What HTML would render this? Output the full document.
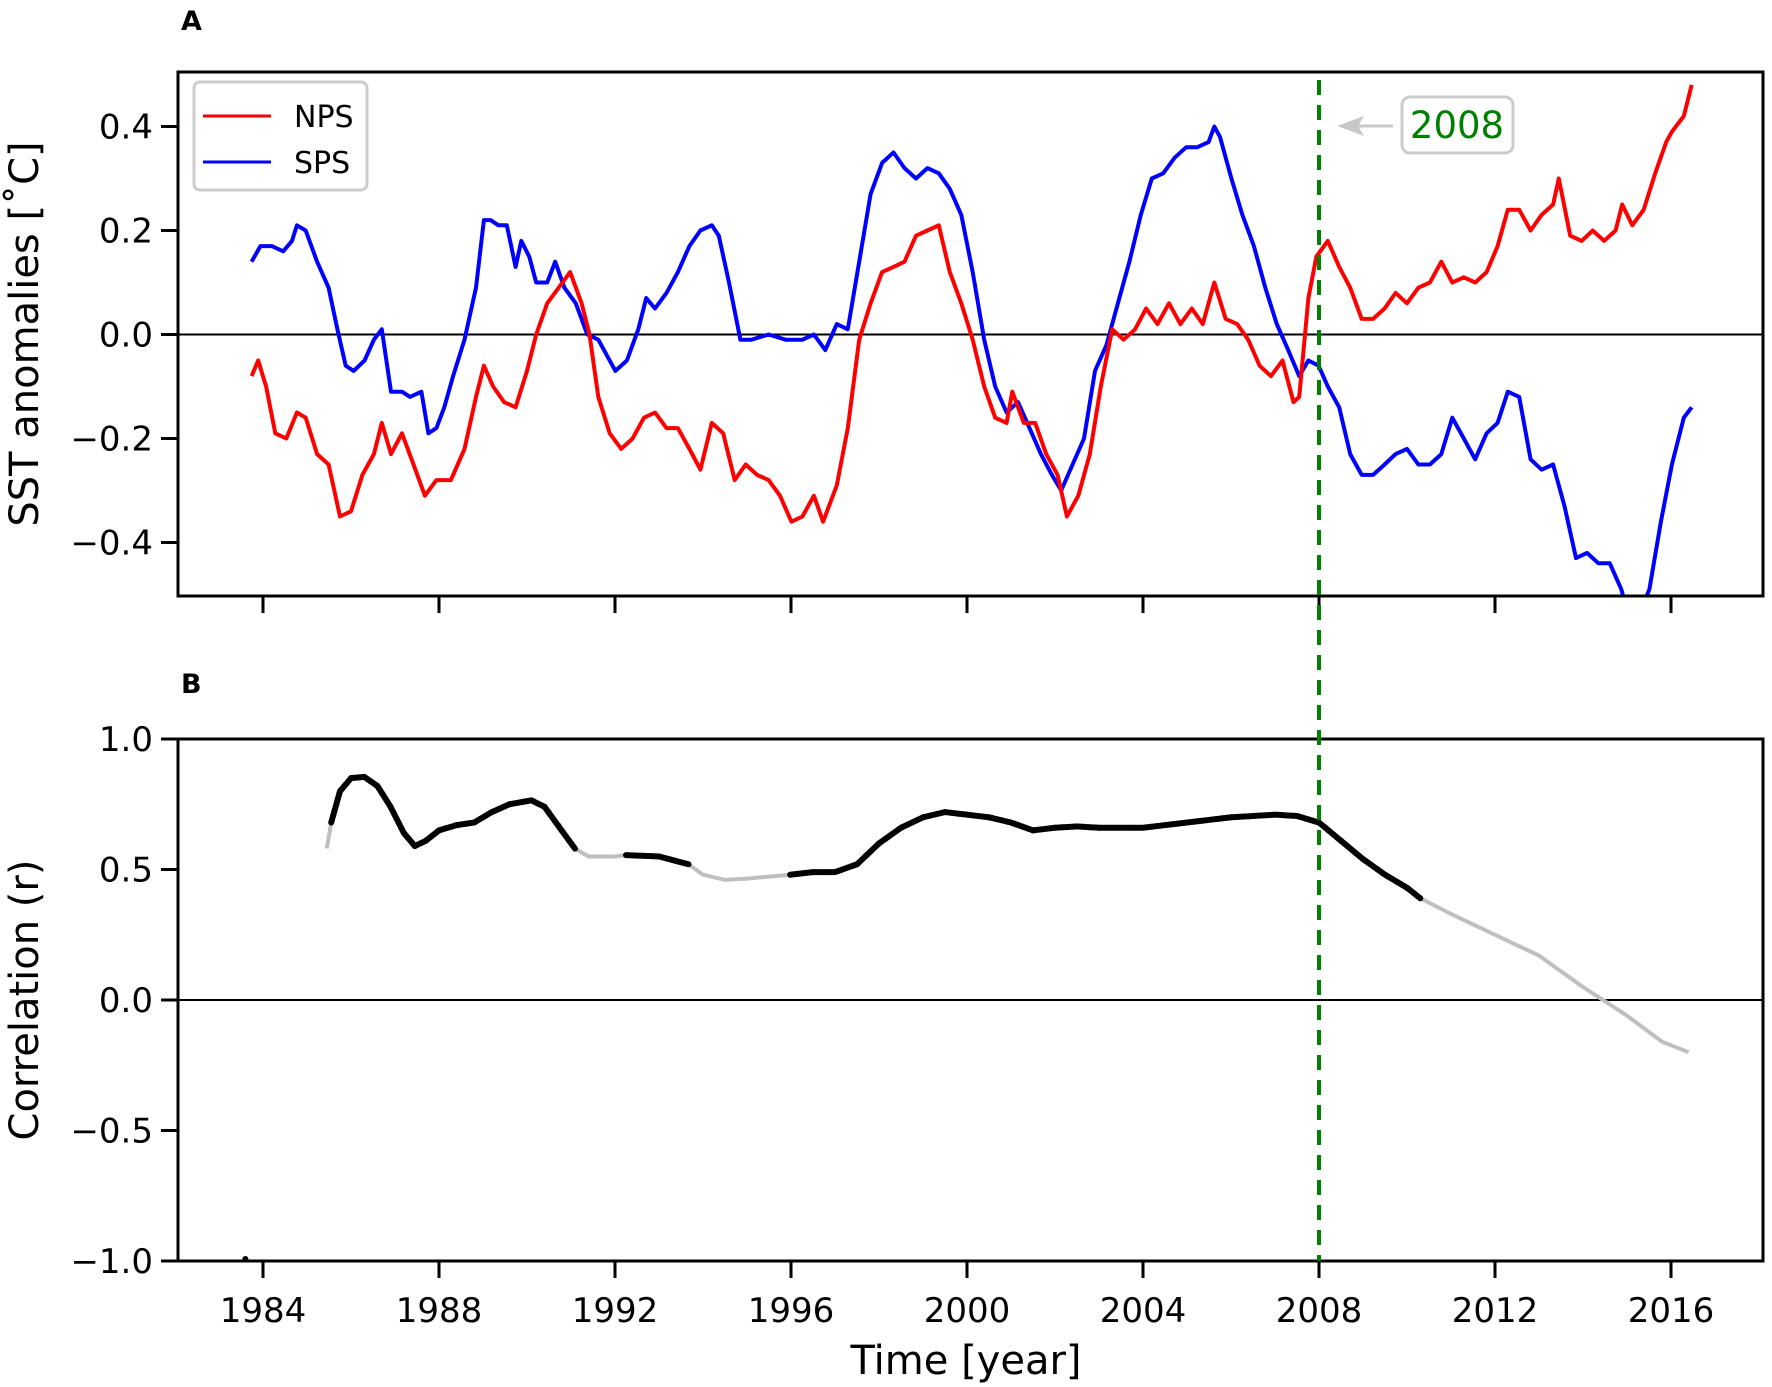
<!DOCTYPE html>
<html><head><meta charset="utf-8"><style>
html,body{margin:0;padding:0;background:#fff}
svg{display:block;font-family:"DejaVu Sans","Liberation Sans",sans-serif}
</style></head><body>
<svg id="chart" width="1772" height="1387" viewBox="0 0 1772 1387" xmlns="http://www.w3.org/2000/svg">
<defs>
<clipPath id="clipA"><rect x="178" y="72" width="1585" height="524"/></clipPath>
<clipPath id="clipB"><rect x="178" y="739" width="1585" height="522"/></clipPath>
</defs>
<g id="root"></g>
</svg>
<script>
const xTicks = [1984,1988,1992,1996,2000,2004,2008,2012,2016];
const yTicksA = [0.4,0.2,0.0,-0.2,-0.4];
const yLabelsA = ["0.4","0.2","0.0","\u22120.2","\u22120.4"];
const yTicksB = [1.0,0.5,0.0,-0.5,-1.0];
const yLabelsB = ["1.0","0.5","0.0","\u22120.5","\u22121.0"];

const npsYears = [1983.74,1983.89,1984.07,1984.28,1984.53,1984.77,1984.97,1985.23,1985.49,1985.75,1986.00,1986.26,1986.52,1986.70,1986.91,1987.16,1987.42,1987.68,1987.94,1988.27,1988.58,1988.84,1989.02,1989.23,1989.48,1989.74,1990.00,1990.21,1990.46,1990.72,1990.98,1991.24,1991.42,1991.62,1991.88,1992.14,1992.40,1992.66,1992.91,1993.17,1993.43,1993.69,1993.94,1994.20,1994.46,1994.72,1994.97,1995.23,1995.49,1995.75,1996.01,1996.26,1996.52,1996.73,1997.04,1997.29,1997.55,1997.81,1998.07,1998.33,1998.58,1998.84,1999.10,1999.36,1999.61,1999.87,2000.13,2000.39,2000.64,2000.90,2001.03,2001.29,2001.55,2001.80,2002.06,2002.27,2002.53,2002.79,2003.04,2003.30,2003.56,2003.82,2004.07,2004.33,2004.59,2004.85,2005.11,2005.36,2005.62,2005.88,2006.14,2006.39,2006.65,2006.91,2007.17,2007.42,2007.55,2007.76,2007.94,2008.20,2008.46,2008.71,2008.97,2009.23,2009.49,2009.74,2010.00,2010.26,2010.52,2010.78,2011.03,2011.29,2011.55,2011.81,2012.06,2012.29,2012.55,2012.81,2013.06,2013.32,2013.45,2013.71,2013.97,2014.22,2014.48,2014.74,2014.89,2015.12,2015.38,2015.64,2015.89,2016.02,2016.29,2016.47];
const npsValues = [-0.08,-0.05,-0.10,-0.19,-0.20,-0.15,-0.16,-0.23,-0.25,-0.35,-0.34,-0.27,-0.23,-0.17,-0.23,-0.19,-0.25,-0.31,-0.28,-0.28,-0.22,-0.12,-0.06,-0.10,-0.13,-0.14,-0.07,0.00,0.06,0.09,0.12,0.06,0.00,-0.12,-0.19,-0.22,-0.20,-0.16,-0.15,-0.18,-0.18,-0.22,-0.26,-0.17,-0.19,-0.28,-0.25,-0.27,-0.28,-0.31,-0.36,-0.35,-0.31,-0.36,-0.29,-0.18,-0.01,0.06,0.12,0.13,0.14,0.19,0.20,0.21,0.12,0.06,-0.01,-0.10,-0.16,-0.17,-0.11,-0.17,-0.17,-0.23,-0.27,-0.35,-0.31,-0.23,-0.10,0.01,-0.01,0.01,0.05,0.02,0.06,0.02,0.05,0.02,0.10,0.03,0.02,-0.01,-0.06,-0.08,-0.05,-0.13,-0.12,0.07,0.15,0.18,0.13,0.09,0.03,0.03,0.05,0.08,0.06,0.09,0.10,0.14,0.10,0.11,0.10,0.12,0.17,0.24,0.24,0.20,0.23,0.25,0.30,0.19,0.18,0.20,0.18,0.20,0.25,0.21,0.24,0.31,0.37,0.39,0.42,0.48];

const spsYears = [1983.74,1983.94,1984.20,1984.46,1984.66,1984.77,1984.97,1985.23,1985.49,1985.69,1985.88,1986.06,1986.31,1986.52,1986.70,1986.91,1987.16,1987.34,1987.60,1987.76,1987.94,1988.12,1988.32,1988.58,1988.84,1989.02,1989.17,1989.35,1989.54,1989.74,1989.87,1990.05,1990.21,1990.46,1990.64,1990.85,1991.11,1991.37,1991.62,1992.01,1992.27,1992.53,1992.71,1992.91,1993.17,1993.43,1993.69,1993.94,1994.20,1994.36,1994.59,1994.85,1995.10,1995.49,1995.88,1996.26,1996.52,1996.78,1997.04,1997.29,1997.55,1997.81,1998.07,1998.33,1998.58,1998.84,1999.10,1999.36,1999.61,1999.87,2000.13,2000.39,2000.64,2000.90,2001.16,2001.42,2001.68,2001.93,2002.14,2002.40,2002.66,2002.91,2003.17,2003.43,2003.69,2003.95,2004.20,2004.46,2004.72,2004.98,2005.23,2005.49,2005.62,2005.75,2006.01,2006.26,2006.52,2006.78,2007.04,2007.30,2007.55,2007.76,2007.99,2008.20,2008.46,2008.71,2008.97,2009.23,2009.49,2009.74,2010.00,2010.26,2010.52,2010.78,2011.03,2011.29,2011.55,2011.81,2012.06,2012.29,2012.55,2012.81,2013.06,2013.32,2013.58,2013.84,2014.09,2014.35,2014.61,2014.87,2015.13,2015.51,2015.77,2016.02,2016.29,2016.47];
const spsValues = [0.14,0.17,0.17,0.16,0.18,0.21,0.20,0.14,0.09,0.01,-0.06,-0.07,-0.05,-0.01,0.01,-0.11,-0.11,-0.12,-0.11,-0.19,-0.18,-0.14,-0.08,-0.01,0.09,0.22,0.22,0.21,0.21,0.13,0.18,0.15,0.10,0.10,0.14,0.09,0.06,0.00,-0.01,-0.07,-0.05,0.01,0.07,0.05,0.08,0.12,0.17,0.20,0.21,0.19,0.10,-0.01,-0.01,0.00,-0.01,-0.01,0.00,-0.03,0.02,0.01,0.14,0.27,0.33,0.35,0.32,0.30,0.32,0.31,0.28,0.23,0.12,-0.01,-0.10,-0.15,-0.13,-0.18,-0.23,-0.27,-0.30,-0.25,-0.20,-0.07,-0.02,0.06,0.14,0.23,0.30,0.31,0.34,0.36,0.36,0.37,0.40,0.38,0.30,0.23,0.17,0.09,0.02,-0.03,-0.08,-0.05,-0.06,-0.10,-0.14,-0.23,-0.27,-0.27,-0.25,-0.23,-0.22,-0.25,-0.25,-0.23,-0.16,-0.20,-0.24,-0.19,-0.17,-0.11,-0.12,-0.24,-0.26,-0.25,-0.33,-0.43,-0.42,-0.44,-0.44,-0.49,-0.57,-0.49,-0.36,-0.25,-0.16,-0.14];

const corrYears = [1985.45,1985.55,1985.75,1986.0,1986.3,1986.6,1986.9,1987.2,1987.45,1987.7,1988.0,1988.4,1988.8,1989.2,1989.6,1990.1,1990.4,1990.7,1991.09,1991.4,1992.0,1992.25,1993.0,1993.67,1994.0,1994.5,1995.0,1995.98,1996.5,1997.0,1997.5,1998.0,1998.5,1999.0,1999.5,2000.0,2000.5,2001.0,2001.5,2002.0,2002.5,2003.0,2004.0,2005.0,2006.0,2007.0,2007.5,2008.0,2008.5,2009.0,2009.5,2010.0,2010.3,2011.0,2012.0,2013.0,2014.0,2015.0,2015.8,2016.4];
const corrValues = [0.58,0.68,0.80,0.85,0.855,0.82,0.74,0.64,0.59,0.61,0.65,0.67,0.68,0.72,0.75,0.765,0.74,0.67,0.58,0.55,0.55,0.555,0.55,0.52,0.48,0.46,0.465,0.48,0.49,0.49,0.52,0.60,0.66,0.70,0.72,0.71,0.70,0.68,0.65,0.66,0.665,0.66,0.66,0.68,0.70,0.71,0.705,0.68,0.61,0.54,0.48,0.43,0.39,0.33,0.25,0.17,0.05,-0.06,-0.16,-0.20];
const corrSignificant = [0,1,1,1,1,1,1,1,1,1,1,1,1,1,1,1,1,1,1,0,0,1,1,1,0,0,0,1,1,1,1,1,1,1,1,1,1,1,1,1,1,1,1,1,1,1,1,1,1,1,1,1,1,0,0,0,0,0,0,0];
const strayDotYear = 1983.6;
const strayDotValue = -1.0;
const markerYear = 2008;

const NS="http://www.w3.org/2000/svg";
const root=document.getElementById('root');
function mk(tag, attrs, parent){const e=document.createElementNS(NS,tag);for(const k in attrs)e.setAttribute(k,attrs[k]);(parent||root).appendChild(e);return e;}
const L=178,R=1763;
const xs = y => 263 + (y-1984)*44;
const yA = v => 334.5 - v*520;
const yB = v => 1000 - v*261;
const A_TOP=72,A_BOT=596,B_TOP=739,B_BOT=1261;

function path(xsArr, ysArr, fx, fy){return xsArr.map((x,i)=>(i?'L':'M')+fx(x).toFixed(1)+' '+fy(ysArr[i]).toFixed(1)).join(' ');}

let t=mk('text',{x:181,y:30,'font-size':27,'font-weight':'bold'});t.textContent='A';


t=mk('text',{x:181,y:693,'font-size':27,'font-weight':'bold'});t.textContent='B';



// Panel A
const gA=mk('g',{});


let zl=mk('line',{x1:L,x2:R,y1:yA(0),y2:yA(0),stroke:'#000','stroke-width':2},gA);


const dA=mk('g',{'clip-path':'url(#clipA)'},gA);
let p=mk('path',{d:path(spsYears,spsValues,xs,yA),fill:'none',stroke:'#0000ff','stroke-width':4,'stroke-linejoin':'round'},dA);


p=mk('path',{d:path(npsYears,npsValues,xs,yA),fill:'none',stroke:'#ff0000','stroke-width':4,'stroke-linejoin':'round'},dA);


let fr=mk('rect',{x:L,y:A_TOP,width:R-L,height:A_BOT-A_TOP,fill:'none',stroke:'#000','stroke-width':3},gA);


yTicksA.forEach((v,i)=>{
  let l=mk('line',{x1:L-17,x2:L,y1:yA(v),y2:yA(v),stroke:'#000','stroke-width':3},gA);
  
  
  let tx=mk('text',{x:L-25,y:yA(v)+12,'font-size':34,'text-anchor':'end'},gA);tx.textContent=yLabelsA[i];
  
  
});
xTicks.forEach(v=>{
  let l=mk('line',{x1:xs(v),x2:xs(v),y1:A_BOT,y2:A_BOT+17,stroke:'#000','stroke-width':3},gA);
  
  
});
t=mk('text',{x:0,y:0,'font-size':40,'text-anchor':'middle',transform:'translate(38,334) rotate(-90)'},gA);t.textContent='SST anomalies [\u02DAC]';



// Legend
const lg=mk('g',{});


mk('rect',{x:194,y:82,width:173,height:108,rx:6,fill:'#fff',stroke:'#cccccc','stroke-width':3},lg);
let le=mk('line',{x1:203,x2:271,y1:116,y2:116,stroke:'#ff0000','stroke-width':3},lg);


t=mk('text',{x:294,y:127,'font-size':30},lg);t.textContent='NPS';


le=mk('line',{x1:203,x2:271,y1:162,y2:162,stroke:'#0000ff','stroke-width':3},lg);


t=mk('text',{x:294,y:173,'font-size':30},lg);t.textContent='SPS';



// Panel B
const gB=mk('g',{});


zl=mk('line',{x1:L,x2:R,y1:yB(0),y2:yB(0),stroke:'#000','stroke-width':2},gB);


const dB=mk('g',{'clip-path':'url(#clipB)'},gB);
p=mk('path',{d:path(corrYears,corrValues,xs,yB),fill:'none',stroke:'#bfbfbf','stroke-width':4,'stroke-linejoin':'round'},dB);


for(let i=1;i<corrYears.length;i++){
  if(corrSignificant[i]&&corrSignificant[i-1]){
    let s=mk('line',{x1:xs(corrYears[i-1]),y1:yB(corrValues[i-1]),x2:xs(corrYears[i]),y2:yB(corrValues[i]),stroke:'#000','stroke-width':6,'stroke-linecap':'round','stroke-dasharray':'4 1.5'},dB);
    
    
  }
}
let sd=mk('circle',{cx:xs(strayDotYear),cy:yB(strayDotValue)-2,r:3,fill:'#000'},gB);


fr=mk('rect',{x:L,y:B_TOP,width:R-L,height:B_BOT-B_TOP,fill:'none',stroke:'#000','stroke-width':3},gB);


yTicksB.forEach((v,i)=>{
  let l=mk('line',{x1:L-17,x2:L,y1:yB(v),y2:yB(v),stroke:'#000','stroke-width':3},gB);
  
  
  let tx=mk('text',{x:L-25,y:yB(v)+12,'font-size':34,'text-anchor':'end'},gB);tx.textContent=yLabelsB[i];
  
  
});
xTicks.forEach(v=>{
  let l=mk('line',{x1:xs(v),x2:xs(v),y1:B_BOT,y2:B_BOT+17,stroke:'#000','stroke-width':3},gB);
  
  
  let tx=mk('text',{x:xs(v),y:1322,'font-size':34,'text-anchor':'middle'},gB);tx.textContent=String(v);
  
  
});
t=mk('text',{x:0,y:0,'font-size':40,'text-anchor':'middle',transform:'translate(38,1000) rotate(-90)'},gB);t.textContent='Correlation (r)';


t=mk('text',{x:966,y:1374,'font-size':40,'text-anchor':'middle'},gB);t.textContent='Time [year]';



// 2008 marker
const mx=xs(markerYear);
let ml=mk('line',{x1:mx,x2:mx,y1:A_TOP+8,y2:B_BOT,stroke:'#008000','stroke-width':4,'stroke-dasharray':'15 10'});


const an=mk('g',{});


mk('line',{x1:1393,x2:1350,y1:126,y2:126,stroke:'#c8c8c8','stroke-width':3},an);
mk('path',{d:'M1337 126 L1364 116 L1358 126 L1364 136 Z',fill:'#c8c8c8'},an);
mk('rect',{x:1402,y:97,width:111,height:56,rx:8,fill:'#fff',stroke:'#cccccc','stroke-width':3},an);
t=mk('text',{x:1457,y:138,'font-size':37,'text-anchor':'middle',fill:'#008000'},an);t.textContent='2008';


</script>
</body></html>
